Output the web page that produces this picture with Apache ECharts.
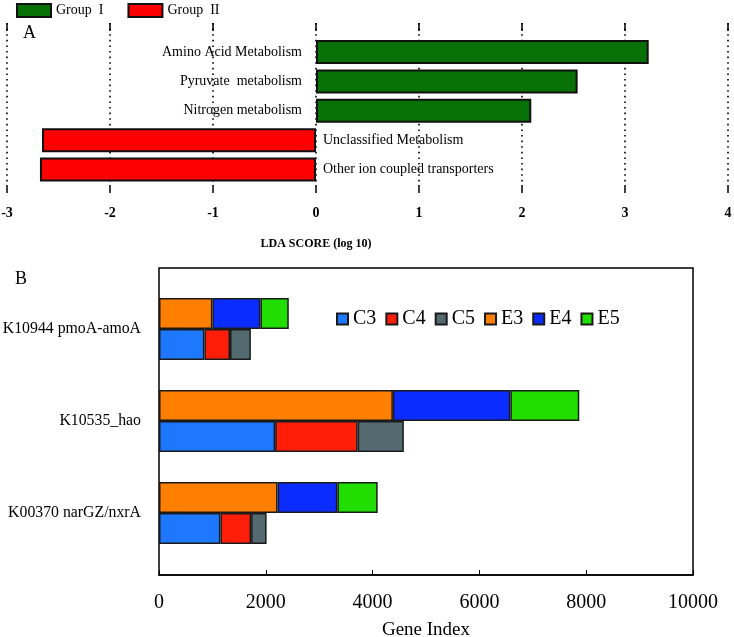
<!DOCTYPE html>
<html>
<head>
<meta charset="utf-8">
<script src="https://cdn.jsdelivr.net/npm/echarts@6/dist/echarts.min.js"></script>
<style>html,body{margin:0;padding:0;background:#fff}#c{width:734px;height:637px}</style>
</head>
<body>
<div id="c"></div>
<script>
// ---- Panel A data (LDA scores) ----
const ldaCategories = ['Amino Acid Metabolism', 'Pyruvate  metabolism', 'Nitrogen metabolism', 'Unclassified Metabolism', 'Other ion coupled transporters'];
const groupIScores = [3.23, 2.54, 2.09, '-', '-'];
const groupIIScores = ['-', '-', '-', -2.66, -2.68];
const ldaTicks = [-3, 4, 1]; // min, max, interval

// ---- Panel B data (gene index) ----
const genes = ['K10944 pmoA-amoA', 'K10535_hao', 'K00370 narGZ/nxrA'];
const C3 = [850, 2175, 1150];
const C4 = [480, 1545, 575];
const C5 = [390, 865, 290];
const E3 = [1000, 4380, 2220];
const E4 = [900, 2200, 1120];
const E5 = [530, 1290, 755];
const geneTicks = [0, 10000, 2000];

const SERIF = '"Liberation Serif", "Times New Roman", serif';
const chart = echarts.init(document.getElementById('c'));

function geneSeries(name, data, stack, color) {
  return {
    name, type: 'bar', stack, data, xAxisIndex: 4, yAxisIndex: 3,
    barWidth: 31, barGap: '0%',
    itemStyle: { color, borderColor: '#1a1a1a', borderWidth: 1.5 }
  };
}

chart.setOption({
  animation: false,
  backgroundColor: '#fff',
  textStyle: { fontFamily: SERIF },
  legend: [
    {
      data: ['Group  I', 'Group  II'], left: 16, top: 3, padding: 0, itemWidth: 34, itemHeight: 13, itemGap: 24,
      icon: 'rect', selectedMode: false,
      textStyle: { fontFamily: SERIF, fontSize: 14, color: '#000' }
    },
    {
      data: ['C3', 'C4', 'C5', 'E3', 'E4', 'E5'], left: 336, top: 309, padding: 0, itemWidth: 11, itemHeight: 11, itemGap: 9,
      icon: 'rect', textStyle: { fontFamily: SERIF, fontSize: 20, color: '#000' }, selectedMode: false
    }
  ],
  grid: [
    { left: 7, right: 6, top: 23, bottom: 637 - 185, show: false, outerBoundsMode: 'none' },
    { left: 7, right: 6, top: 37.3, height: 147, show: false, outerBoundsMode: 'none' },
    { left: 159, right: 41, top: 268, bottom: 62, show: true, borderColor: '#000', borderWidth: 1.5, backgroundColor: 'transparent', outerBoundsMode: 'none' },
    { left: 159, right: 41, top: 283, height: 276, show: false, outerBoundsMode: 'none' }
  ],
  xAxis: [
    {
      gridIndex: 0, type: 'value', min: ldaTicks[0], max: ldaTicks[1], interval: ldaTicks[2], position: 'bottom', offset: 6,
      axisLine: { show: false },
      axisTick: { show: true, length: 8, lineStyle: { color: '#000', width: 1.5 } },
      axisLabel: { fontFamily: SERIF, fontSize: 14, fontWeight: 'bold', color: '#000', margin: 15 },
      splitLine: { show: true, lineStyle: { color: '#000', width: 1.6, type: [1.6, 4] } }
    },
    {
      gridIndex: 0, type: 'value', min: ldaTicks[0], max: ldaTicks[1], interval: ldaTicks[2], position: 'top',
      axisLine: { show: false },
      axisTick: { show: true, inside: true, length: 8, lineStyle: { color: '#000', width: 1.5 } },
      axisLabel: { show: false }, splitLine: { show: false }
    },
    { gridIndex: 1, type: 'value', min: ldaTicks[0], max: ldaTicks[1], show: false },
    {
      gridIndex: 2, type: 'value', min: geneTicks[0], max: geneTicks[1], interval: geneTicks[2],
      name: 'Gene Index', nameLocation: 'middle', nameGap: 46,
      nameTextStyle: { fontFamily: SERIF, fontSize: 19, color: '#000' },
      axisLine: { show: true, lineStyle: { color: '#000', width: 1.5 } },
      axisTick: { show: true, inside: true, length: 5, lineStyle: { color: '#000', width: 1 } },
      axisLabel: { fontFamily: SERIF, fontSize: 20, color: '#000', margin: 18, formatter: function (v) { return String(v); } },
      splitLine: { show: false }
    },
    { gridIndex: 3, type: 'value', min: geneTicks[0], max: geneTicks[1], show: false }
  ],
  yAxis: [
    { gridIndex: 0, type: 'value', show: false, min: 0, max: 1 },
    { gridIndex: 1, type: 'category', inverse: true, data: ldaCategories, show: false },
    { gridIndex: 2, type: 'value', show: false, min: 0, max: 1 },
    {
      gridIndex: 3, type: 'category', inverse: true, data: genes,
      axisLine: { show: false }, axisTick: { show: false },
      axisLabel: { fontFamily: SERIF, fontSize: 15.8, color: '#000', margin: 18 }
    }
  ],
  graphic: [
    { type: 'text', x: 23, y: 33, style: { text: 'A', font: '18px ' + SERIF, fill: '#000', verticalAlign: 'middle' } },
    { type: 'text', x: 15, y: 279, style: { text: 'B', font: '18px ' + SERIF, fill: '#000', verticalAlign: 'middle' } },
    { type: 'text', x: 316, y: 244, style: { text: 'LDA SCORE (log 10)', font: 'bold 12px ' + SERIF, fill: '#000', align: 'center', verticalAlign: 'middle' } }
  ],
  series: [
    {
      name: 'Group  I', type: 'bar', stack: 'lda', data: groupIScores, xAxisIndex: 2, yAxisIndex: 1, barWidth: 24,
      itemStyle: { color: '#077107', borderColor: '#111', borderWidth: 2 },
      label: { show: true, position: 'left', distance: 14, formatter: '{b}', fontFamily: SERIF, fontSize: 14, color: '#000' }
    },
    {
      name: 'Group  II', type: 'bar', stack: 'lda', data: groupIIScores, xAxisIndex: 2, yAxisIndex: 1, barWidth: 24,
      itemStyle: { color: '#ff0000', borderColor: '#111', borderWidth: 2 },
      label: { show: true, position: 'right', distance: 7, formatter: '{b}', fontFamily: SERIF, fontSize: 14, color: '#000' }
    },
    geneSeries('E3', E3, 'E', '#ff7f00'),
    geneSeries('E4', E4, 'E', '#0a2cff'),
    geneSeries('E5', E5, 'E', '#22dd00'),
    geneSeries('C3', C3, 'C', '#1e78ff'),
    geneSeries('C4', C4, 'C', '#ff1e0a'),
    geneSeries('C5', C5, 'C', '#536a70')
  ]
});
</script>
</body>
</html>
